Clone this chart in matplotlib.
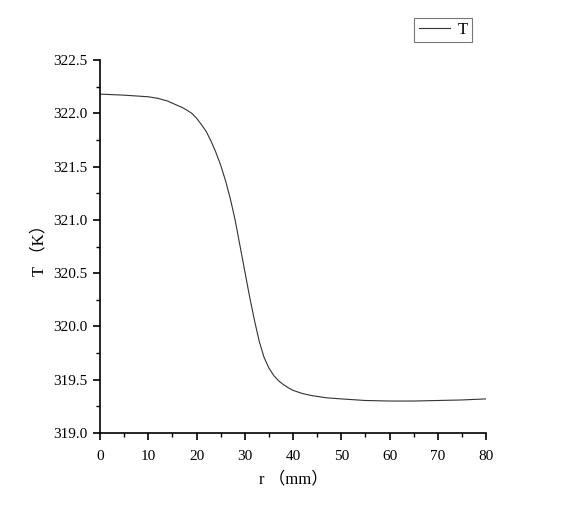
import matplotlib
matplotlib.use("Agg")
import matplotlib.pyplot as plt
from matplotlib.ticker import MultipleLocator, FormatStrFormatter

r_mm = [0, 5, 10, 12, 14, 16, 17, 18, 19, 20, 21, 22, 23, 24, 25, 26, 27, 28, 29, 30,
        31, 32, 33, 34, 35, 36, 37, 38, 39, 40, 42, 44, 47, 50, 55, 60, 65, 70, 75, 80]
T_K = [322.18, 322.17, 322.155, 322.14, 322.115, 322.075, 322.055, 322.03, 322.00, 321.955,
       321.895, 321.83, 321.74, 321.635, 321.515, 321.37, 321.20, 321.00, 320.76, 320.52,
       320.28, 320.06, 319.86, 319.71, 319.61, 319.54, 319.49, 319.455, 319.425, 319.40,
       319.37, 319.35, 319.33, 319.32, 319.305, 319.30, 319.30, 319.305, 319.31, 319.32]
series_label = "T"
x_label = "r （mm）"
y_label = "T （K）"

plt.rcParams['font.family'] = ['Liberation Serif', 'Noto Sans CJK SC']
plt.rcParams['font.size'] = 11

fig = plt.figure(figsize=(5.64, 5.2), dpi=100)
ax = fig.add_axes([100/564, 1-433/520, 386/564, 373/520])

line, = ax.plot(r_mm, T_K, color='#333333', lw=0.8, label=series_label)

ax.set_xlim(0, 80)
ax.set_ylim(319.0, 322.5)
ax.xaxis.set_major_locator(MultipleLocator(10))
ax.xaxis.set_minor_locator(MultipleLocator(5))
ax.yaxis.set_major_locator(MultipleLocator(0.5))
ax.yaxis.set_minor_locator(MultipleLocator(0.25))
ax.yaxis.set_major_formatter(FormatStrFormatter('%.1f'))

for s in ['top', 'right']:
    ax.spines[s].set_visible(False)
for s in ['left', 'bottom']:
    ax.spines[s].set_linewidth(1.2)

ax.tick_params(which='major', direction='out', length=5, width=1.2, labelsize=11, colors='black')
ax.tick_params(which='minor', direction='out', length=3, width=1.0)
ax.tick_params(axis='x', pad=7)
ax.tick_params(axis='y', pad=4)

ax.set_xlabel(x_label, fontsize=12, labelpad=6)
ax.set_ylabel(y_label, fontsize=12, labelpad=4)

leg = fig.legend(handles=[line], loc='upper right', bbox_to_anchor=(472/564, 1-18/520),
                 frameon=True, fancybox=False, edgecolor='#555555', fontsize=12,
                 handlelength=1.9, handletextpad=0.45, borderpad=0.25, borderaxespad=0)
leg.get_frame().set_linewidth(0.8)

fig.savefig("out.png", dpi=100)
